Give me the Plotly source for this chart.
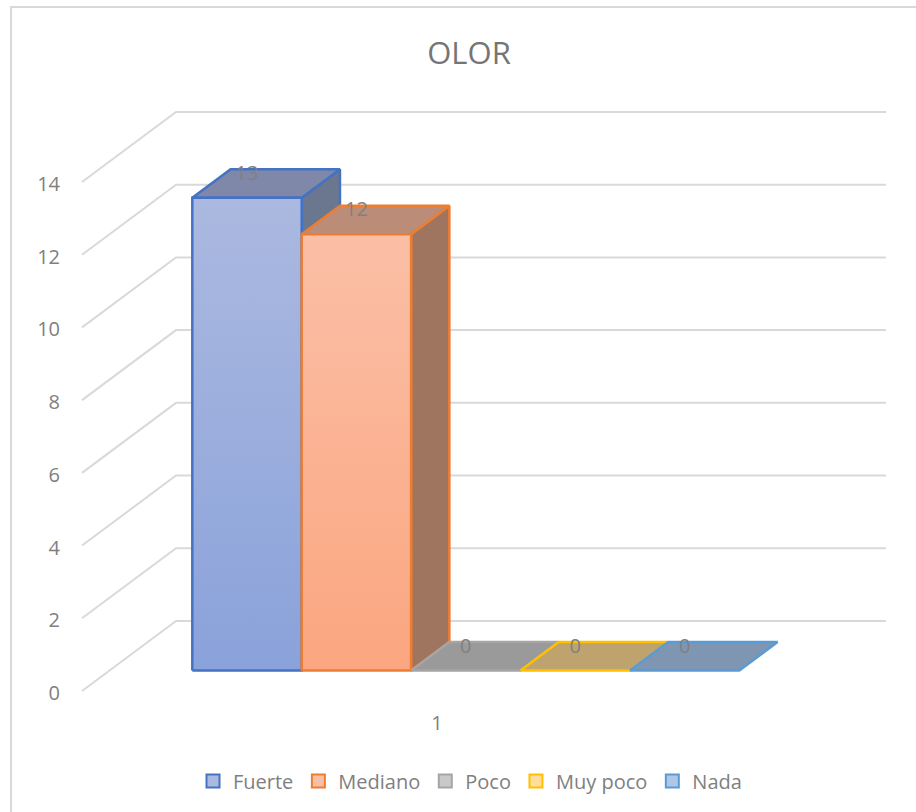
import plotly.graph_objects as go

# ---- data ----
series = ["Fuerte", "Mediano", "Poco", "Muy poco", "Nada"]
values = [13, 12, 0, 0, 0]
category = "1"
title = "OLOR"
y_ticks = [0, 2, 4, 6, 8, 10, 12, 14]
line_colors = ["#4472C4", "#ED7D31", "#A5A5A5", "#FFC000", "#5B9BD5"]
front_top = ["#ABB9E0", "#FBBFA6", "#C9C9C9", "#FFDD9A", "#AFC6E6"]
front_bottom = ["#8AA2DA", "#FAA680", "#B5B5B5", "#FFD27F", "#9DBCE3"]
top_colors = ["#7F88A8", "#BB8C77", "#9A9A9A", "#BFA36F", "#7F96B2"]
side_colors = ["#6B768F", "#9F755F", "#888888", "#A58F60", "#6F86A0"]

FW, FH = 916, 812
ML, MR, MT, MB = 61, 20, 100, 103   # plot area margins
PX_PER_UNIT = 36.36
Y0_PX = 691
X_RANGE = (ML, FW - MR)
Y_RANGE = (-(FH - MB - Y0_PX) / PX_PER_UNIT, (Y0_PX - MT) / PX_PER_UNIT)

# oblique projection of the 3D box; depth 0 = front of the floor, 1 = back wall
WALL_DX, WALL_DY = 94, 70
WALL_X0 = 82
WALL_X1 = 792
BAR_W = 109.4
BAR_D0, BAR_D1 = 20.5 / 70, 49 / 70
BAR_X0 = 192.3 - WALL_DX * BAR_D0
FONT = "Open Sans, Noto Sans, sans-serif"
BAR_LW = 2.5


def proj(x, v, d):
    return x + WALL_DX * d, v + WALL_DY * d / PX_PER_UNIT


def poly(pts, fill, line, lw=BAR_LW):
    xs, ys = zip(*pts)
    return go.Scatter(x=list(xs) + [xs[0]], y=list(ys) + [ys[0]], mode="lines", fill="toself",
                      fillcolor=fill, line=dict(color=line, width=lw),
                      hoverinfo="skip", showlegend=False)


fig = go.Figure()

# walls: gridlines
for t in y_ticks:
    a = proj(WALL_X0, t, 0)
    b = proj(WALL_X0, t, 1)
    c = proj(WALL_X1, t, 1)
    fig.add_trace(go.Scatter(x=[a[0], b[0], c[0]], y=[a[1], b[1], c[1]], mode="lines",
                             line=dict(color="#D9D9D9", width=2), hoverinfo="skip", showlegend=False))

# bars
for i, (name, v) in enumerate(zip(series, values)):
    x0 = BAR_X0 + i * BAR_W
    x1 = x0 + BAR_W
    lc = line_colors[i]
    if v > 0:
        fig.add_trace(poly([proj(x1, 0, BAR_D0), proj(x1, 0, BAR_D1), proj(x1, v, BAR_D1), proj(x1, v, BAR_D0)],
                           side_colors[i], lc))
    fig.add_trace(poly([proj(x0, v, BAR_D0), proj(x0, v, BAR_D1), proj(x1, v, BAR_D1), proj(x1, v, BAR_D0)],
                       top_colors[i], lc))
    if v > 0:
        corners = [proj(x0, 0, BAR_D0), proj(x1, 0, BAR_D0), proj(x1, v, BAR_D0), proj(x0, v, BAR_D0), proj(x0, 0, BAR_D0)]
        fig.add_trace(go.Scatter(
            x=[c[0] for c in corners], y=[c[1] for c in corners],
            mode="lines", fill="toself",
            fillgradient=dict(type="vertical", colorscale=[[0, front_bottom[i]], [1, front_top[i]]]),
            line=dict(color=lc, width=BAR_LW), hoverinfo="skip", showlegend=False))

# value labels sit on the top faces, above every bar
for i, v in enumerate(values):
    lx = proj(BAR_X0 + (i + 0.5) * BAR_W, v, BAR_D0)[0]
    ly = proj(0, v, BAR_D1)[1] - 5.5 / PX_PER_UNIT
    fig.add_trace(go.Scatter(x=[lx], y=[ly], mode="text", text=[str(v)],
                             textfont=dict(family=FONT, size=20, color="#808080"),
                             hoverinfo="skip", showlegend=False))

# legend entries
for i, name in enumerate(series):
    fig.add_trace(go.Scatter(x=[None], y=[None], mode="markers", name=name,
                             marker=dict(symbol="square", size=13, color=front_top[i],
                                         line=dict(color=line_colors[i], width=2))))

plot_w = FW - ML - MR
plot_h = FH - MT - MB
fig.update_layout(
    width=FW, height=FH, autosize=False,
    margin=dict(l=ML, r=MR, t=MT, b=MB),
    paper_bgcolor="white", plot_bgcolor="rgba(0,0,0,0)",
    font=dict(family=FONT, color="#808080", size=20),
    title=dict(text=title, x=469 / FW, xanchor="center", y=1 - 53 / FH, yanchor="middle",
               font=dict(size=31, color="#757575")),
    xaxis=dict(range=list(X_RANGE), showgrid=False, zeroline=False,
               tickmode="array", tickvals=[437], ticktext=[category], ticks="", ticklen=0,
               showline=False, fixedrange=True),
    yaxis=dict(range=list(Y_RANGE), showgrid=False, zeroline=False,
               tickmode="array", tickvals=y_ticks, ticks="", showline=False, fixedrange=True,
               ticklabelshift=2),
    legend=dict(orientation="h", x=(470 - ML) / plot_w, xanchor="center",
                y=(FH - MB - 781) / plot_h, yanchor="middle",
                font=dict(size=20, color="#808080"), itemwidth=30, bgcolor="rgba(0,0,0,0)"),
    shapes=[dict(type="rect", xref="paper", yref="paper", layer="below",
                 x0=(11 - ML) / plot_w, x1=(930 - ML) / plot_w,
                 y0=(FH - MB - 830) / plot_h, y1=(FH - MB - 7) / plot_h,
                 line=dict(color="#D9D9D9", width=2))],
)
fig.write_html("out.html", config={"displayModeBar": False},
               post_script="document.body.style.margin='0';document.body.style.overflow='hidden';")
